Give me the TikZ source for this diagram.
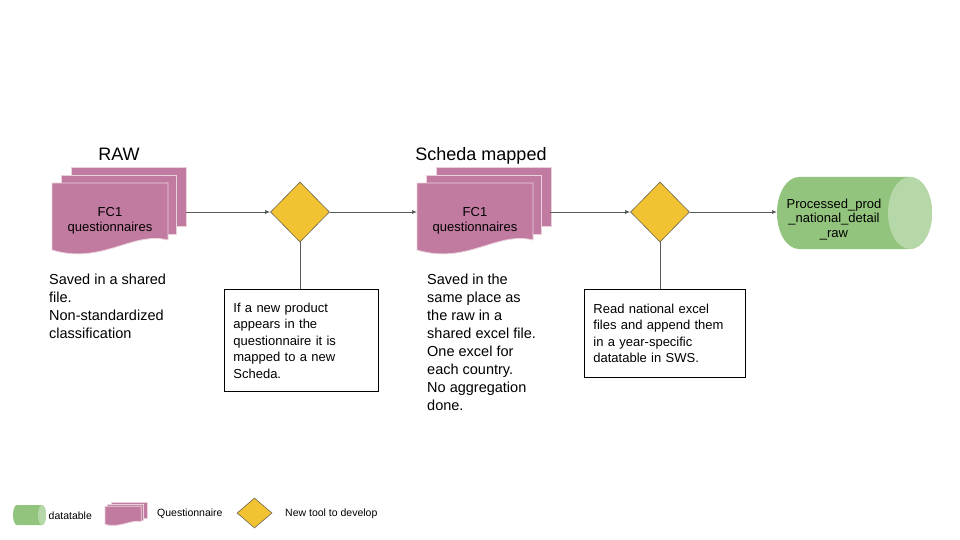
\documentclass[tikz,border=0pt]{standalone}
\usepackage{fontspec}
\setmainfont{Liberation Sans}
\usetikzlibrary{shapes.geometric,arrows.meta}
\definecolor{qpink}{HTML}{C27BA0}
\definecolor{qedge}{HTML}{EAD1DC}
\definecolor{dyellow}{HTML}{F1C232}
\definecolor{dedge}{HTML}{6E6650}
\definecolor{tgreen}{HTML}{93C47D}
\definecolor{tface}{HTML}{B6D7A8}
\definecolor{lgray}{HTML}{595959}
\newcommand{\qdocstack}[4]{%
  \begin{scope}[shift={(#1,#2)}, xscale=#3, yscale=#4]
    \filldraw[pagebox] (19,-16) rectangle (134,43);
    \filldraw[pagebox] (9,-8) rectangle (124,51);
    \filldraw[pagebox] (0,0) -- (116,0) -- (116,57) .. controls (80,48) and (50,82) .. (0,67) -- cycle;
  \end{scope}}
\newcommand{\dtcyl}[5]{% left centre x, right centre x, centre y, rx, ry
  \fill[tgreen] (#1,#3-#5) -- (#2,#3-#5) arc[start angle=-90,end angle=90,x radius=#4,y radius=#5]
    -- (#1,#3+#5) arc[start angle=90,end angle=270,x radius=#4,y radius=#5] -- cycle;
  \fill[tface] (#2,#3) ellipse [x radius=#4, y radius=#5];}
\begin{document}
\begin{tikzpicture}[x=1pt,y=-1pt,
  pagebox/.style={fill=qpink, draw=qedge, line width=0.8pt},
  tool/.style={diamond, fill=dyellow, draw=dedge, line width=0.6pt, inner sep=0pt,
    minimum width=59pt, minimum height=60pt},
  flow/.style={draw=lgray, line width=0.8pt, -{Latex[length=5pt,width=4pt]}},
  link/.style={draw=lgray, line width=0.8pt},
  note/.style={draw=black, line width=0.8pt, align=left, anchor=north west,
    font=\fontsize{13}{16.5}\selectfont, inner xsep=9pt},
  annot/.style={align=left, anchor=north west, inner sep=0pt,
    font=\fontsize{14.5}{18}\selectfont},
  title/.style={anchor=base, inner sep=0pt, font=\fontsize{18}{20}\selectfont},
  doclabel/.style={align=center, anchor=north, inner sep=0pt,
    font=\fontsize{13}{14.5}\selectfont},
  legtext/.style={anchor=west, inner sep=0pt, font=\fontsize{10.5}{12}\selectfont}]
\useasboundingbox (0,0) rectangle (960,540);
\fill[white] (0,0) rectangle (960,540);

% titles
\node[title] (t1) at (119,160.5) {RAW};
\node[title] (t2) at (481,160.5) {Scheda mapped};

% questionnaire stacks
\qdocstack{52}{183}{1}{1}
\node[doclabel] (doc1) at (110,207.5) {FC1\\questionnaires};
\coordinate (doc1out) at (186,212);
\qdocstack{417}{183}{1}{1}
\node[doclabel] (doc2) at (475,207.5) {FC1\\questionnaires};
\coordinate (doc2in) at (417,212);
\coordinate (doc2out) at (550,212);

% tools
\node[tool] (d1) at (300,212) {};
\node[tool] (d2) at (660,212) {};

% datatable
\dtcyl{799}{910}{213}{22}{36}
\node[doclabel] (dt) at (834,198.4) {Processed\_prod\\\_national\_detail\\\_raw};
\coordinate (dtin) at (777,212);

% notes
\node[note, text width=136pt, minimum height=102pt] (b1) at (224,289)
  {If a new product\\appears in the\\questionnaire it is\\mapped to a new\\Scheda.};
\node[note, text width=143pt, minimum height=88pt] (b2) at (584,289)
  {Read national excel\\files and append them\\in a year-specific\\datatable in SWS.};

% annotations
\node[annot] (a1) at (49,273.8) {Saved in a shared\\file.\\Non-standardized\\classification};
\node[annot] (a2) at (427,273.8) {Saved in the\\same place as\\the raw in a\\shared excel file.\\One excel for\\each country.\\No aggregation\\done.};

% connectors
\draw[flow] (doc1out) -- (d1.west);
\draw[flow] (d1.east) -- (doc2in);
\draw[flow] (doc2out) -- (d2.west);
\draw[flow] (d2.east) -- (dtin);
\draw[link] (d1.south) -- (d1.south |- b1.north);
\draw[link] (d2.south) -- (d2.south |- b2.north);

% legend
\dtcyl{17}{42}{515}{4}{10}
\node[legtext] (l1) at (48.5,515.5) {datatable};
\qdocstack{105}{506.3}{0.313}{0.27}
\node[legtext] (l2) at (157,514) {Questionnaire};
\node[tool, minimum width=35pt, minimum height=30pt] (ld) at (254.5,513) {};
\node[legtext] (l3) at (285,514) {New tool to develop};
\end{tikzpicture}
\end{document}
